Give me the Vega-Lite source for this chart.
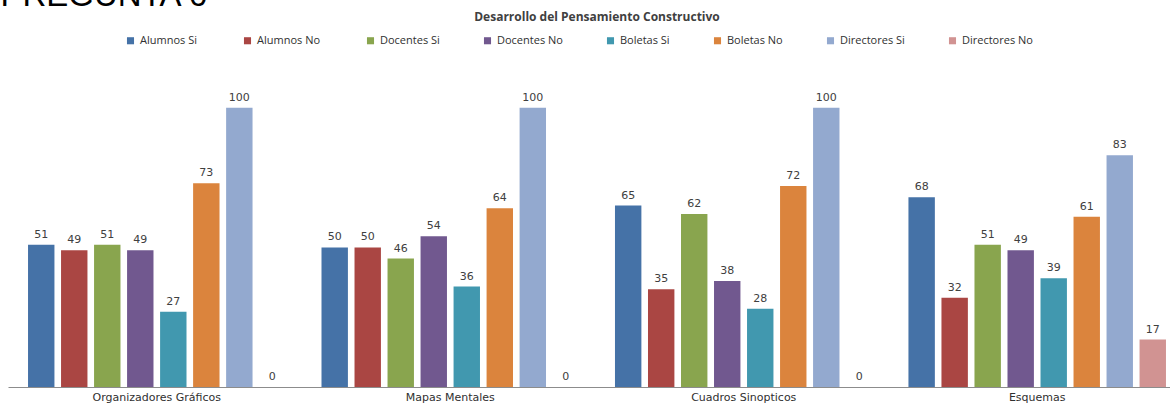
{
  "$schema": "https://vega.github.io/schema/vega-lite/v6.json",
  "width": 1178,
  "height": 335,
  "autosize": {"type": "none"},
  "padding": {"left": 8, "top": 52, "right": 0, "bottom": 17},
  "background": "white",
  "title": {
    "text": "Desarrollo del Pensamiento Constructivo",
    "anchor": "middle",
    "font": "Open Sans",
    "fontSize": 12,
    "fontWeight": "bold",
    "color": "#404040",
    "offset": 0,
    "dy": 45
  },
  "config": {"view": {"stroke": null}},
  "data": {
    "values": [
      {"categoria": "Organizadores Gráficos", "serie": "Alumnos  Si", "valor": 51},
      {"categoria": "Organizadores Gráficos", "serie": "Alumnos  No", "valor": 49},
      {"categoria": "Organizadores Gráficos", "serie": "Docentes Si", "valor": 51},
      {"categoria": "Organizadores Gráficos", "serie": "Docentes No", "valor": 49},
      {"categoria": "Organizadores Gráficos", "serie": "Boletas Si", "valor": 27},
      {"categoria": "Organizadores Gráficos", "serie": "Boletas No", "valor": 73},
      {"categoria": "Organizadores Gráficos", "serie": "Directores Si", "valor": 100},
      {"categoria": "Organizadores Gráficos", "serie": "Directores No", "valor": 0},
      {"categoria": "Mapas Mentales", "serie": "Alumnos  Si", "valor": 50},
      {"categoria": "Mapas Mentales", "serie": "Alumnos  No", "valor": 50},
      {"categoria": "Mapas Mentales", "serie": "Docentes Si", "valor": 46},
      {"categoria": "Mapas Mentales", "serie": "Docentes No", "valor": 54},
      {"categoria": "Mapas Mentales", "serie": "Boletas Si", "valor": 36},
      {"categoria": "Mapas Mentales", "serie": "Boletas No", "valor": 64},
      {"categoria": "Mapas Mentales", "serie": "Directores Si", "valor": 100},
      {"categoria": "Mapas Mentales", "serie": "Directores No", "valor": 0},
      {"categoria": "Cuadros Sinopticos", "serie": "Alumnos  Si", "valor": 65},
      {"categoria": "Cuadros Sinopticos", "serie": "Alumnos  No", "valor": 35},
      {"categoria": "Cuadros Sinopticos", "serie": "Docentes Si", "valor": 62},
      {"categoria": "Cuadros Sinopticos", "serie": "Docentes No", "valor": 38},
      {"categoria": "Cuadros Sinopticos", "serie": "Boletas Si", "valor": 28},
      {"categoria": "Cuadros Sinopticos", "serie": "Boletas No", "valor": 72},
      {"categoria": "Cuadros Sinopticos", "serie": "Directores Si", "valor": 100},
      {"categoria": "Cuadros Sinopticos", "serie": "Directores No", "valor": 0},
      {"categoria": "Esquemas", "serie": "Alumnos  Si", "valor": 68},
      {"categoria": "Esquemas", "serie": "Alumnos  No", "valor": 32},
      {"categoria": "Esquemas", "serie": "Docentes Si", "valor": 51},
      {"categoria": "Esquemas", "serie": "Docentes No", "valor": 49},
      {"categoria": "Esquemas", "serie": "Boletas Si", "valor": 39},
      {"categoria": "Esquemas", "serie": "Boletas No", "valor": 61},
      {"categoria": "Esquemas", "serie": "Directores Si", "valor": 83},
      {"categoria": "Esquemas", "serie": "Directores No", "valor": 17}
    ]
  },
  "encoding": {
    "x": {
      "field": "categoria",
      "type": "nominal",
      "sort": ["Organizadores Gráficos", "Mapas Mentales", "Cuadros Sinopticos", "Esquemas"],
      "scale": {"paddingInner": 0.1, "paddingOuter": 0.057},
      "axis": {
        "title": null,
        "labelAngle": 0,
        "ticks": false,
        "domainColor": "#8c8c8c",
        "labelFont": "DejaVu Sans",
        "labelFontSize": 11,
        "labelColor": "#303030",
        "labelPadding": 4
      }
    },
    "xOffset": {
      "field": "serie",
      "type": "nominal",
      "sort": ["Alumnos  Si", "Alumnos  No", "Docentes Si", "Docentes No", "Boletas Si", "Boletas No", "Directores Si", "Directores No"],
      "scale": {"paddingInner": 0.2, "paddingOuter": 0.1}
    },
    "y": {
      "field": "valor",
      "type": "quantitative",
      "scale": {"domain": [0, 120], "nice": false},
      "axis": {
        "labels": false,
        "ticks": false,
        "domain": false,
        "grid": false,
        "title": "PREGUNTA 6",
        "titleAngle": 0,
        "titleX": -8,
        "titleY": -47,
        "titleAlign": "left",
        "titleBaseline": "alphabetic",
        "titleFont": "Liberation Sans",
        "titleFontSize": 33,
        "titleFontWeight": "normal",
        "titleColor": "#000000"
      }
    }
  },
  "layer": [
    {
      "mark": {"type": "bar"},
      "encoding": {
        "color": {
          "field": "serie",
          "type": "nominal",
          "sort": ["Alumnos  Si", "Alumnos  No", "Docentes Si", "Docentes No", "Boletas Si", "Boletas No", "Directores Si", "Directores No"],
          "scale": {
            "domain": ["Alumnos  Si", "Alumnos  No", "Docentes Si", "Docentes No", "Boletas Si", "Boletas No", "Directores Si", "Directores No"],
            "range": ["#4572A7", "#AA4643", "#89A54E", "#71588F", "#4198AF", "#DB843D", "#93A9CF", "#D19392"]
          },
          "legend": {
            "title": null,
            "orient": "none",
            "direction": "horizontal",
            "legendX": 117,
            "legendY": -17,
            "symbolType": "square",
            "symbolSize": 50,
            "symbolStrokeWidth": 0,
            "labelFont": "Open Sans",
            "labelFontSize": 11,
            "labelColor": "#303030",
            "labelOffset": 4,
            "columnPadding": 42
          }
        }
      }
    },
    {
      "mark": {"type": "text", "baseline": "bottom", "dy": -5, "font": "DejaVu Sans", "fontSize": 11, "color": "#404040"},
      "encoding": {
        "text": {"field": "valor", "type": "quantitative"}
      }
    }
  ]
}
